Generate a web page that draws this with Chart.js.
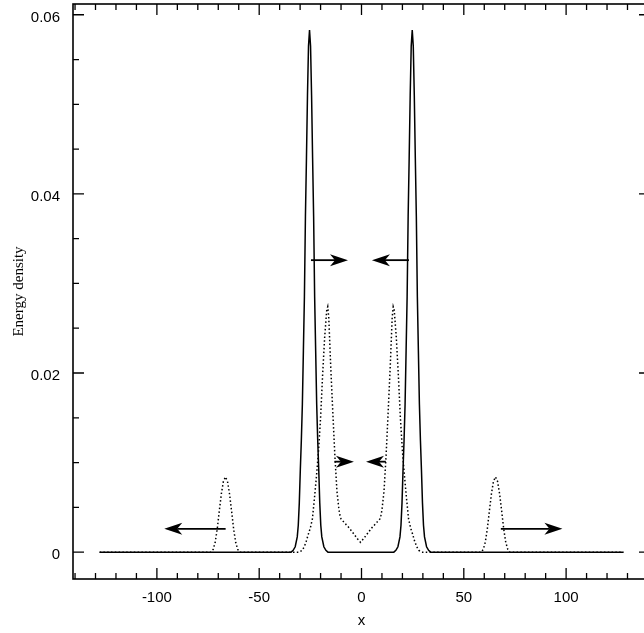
<!DOCTYPE html>
<html>
<head>
<meta charset="utf-8">
<script src="https://cdn.jsdelivr.net/npm/chart.js@4.4.1/dist/chart.umd.min.js"></script>
<style>
  html, body { margin: 0; padding: 0; background: #fff; overflow: hidden; }
  #wrap { width: 652px; height: 633px; }
</style>
</head>
<body>
<div id="wrap"><canvas id="chart"></canvas></div>
<script>
// ===== DATA =====
const solidX = [-128,
  -34.4, -33.4, -32.4, -31.4, -30.9, -30.4, -29.9, -29.4, -28.9, -28.4, -27.9, -27.4, -26.9, -26.4, -25.9, -25.4,
  -24.9, -24.4, -23.9, -23.4, -22.9, -22.4, -21.9, -21.4, -20.9, -20.4, -19.9, -19.4, -18.4, -17.4, -16.4,
  15.8, 16.8, 17.8, 18.8, 19.3, 19.8, 20.3, 20.8, 21.3, 21.8, 22.3, 22.8, 23.3, 23.8, 24.3, 24.8,
  25.3, 25.8, 26.3, 26.8, 27.3, 27.8, 28.3, 28.8, 29.3, 29.8, 30.3, 30.8, 31.8, 32.8, 33.8,
  128];
const solidY = [0,
  0, 0.0002, 0.0006, 0.0017, 0.003, 0.0055, 0.0092, 0.0125, 0.0165, 0.0225, 0.0285, 0.0375, 0.044, 0.051, 0.0565, 0.0583,
  0.0565, 0.051, 0.044, 0.0375, 0.0285, 0.0225, 0.0165, 0.0125, 0.0092, 0.0055, 0.003, 0.0017, 0.0006, 0.0002, 0,
  0, 0.0002, 0.0006, 0.0017, 0.003, 0.0055, 0.0092, 0.0125, 0.0165, 0.0225, 0.0285, 0.0375, 0.044, 0.051, 0.0565, 0.0583,
  0.0565, 0.051, 0.044, 0.0375, 0.0285, 0.0225, 0.0165, 0.0125, 0.0092, 0.0055, 0.003, 0.0017, 0.0006, 0.0002, 0,
  0];

const dottedX = [-128,
  -73.5, -72.5, -71.5, -70.5, -69.5, -68.5, -67.5, -66.5, -65.5, -64.5, -63.5, -62.5, -61.5, -60.5, -59.5,
  -30.5, -29, -28, -27, -26, -25, -24, -23, -22, -21, -20, -19, -18, -17, -16.5, -16, -15, -14, -13, -12, -11,
  -10.5, -10, -8, -6, -4, -2, -0.5, 1, 3, 5, 7, 9, 9.5,
  10, 11, 12, 13, 14, 15, 15.5, 16, 17, 18, 19, 20, 21, 22, 23, 24, 25, 26, 27, 28, 29.5,
  58.5, 59.5, 60.5, 61.5, 62.5, 63.5, 64.5, 65.5, 66.5, 67.5, 68.5, 69.5, 70.5, 71.5, 72.5,
  128];
const dottedY = [0,
  0, 0.0003, 0.0011, 0.0026, 0.0046, 0.0065, 0.0079, 0.0084, 0.0079, 0.0065, 0.0046, 0.0026, 0.0011, 0.0003, 0,
  0, 0.0002, 0.0006, 0.0012, 0.002, 0.0027, 0.0037, 0.006, 0.0085, 0.0113, 0.015, 0.0198, 0.024, 0.027, 0.0274, 0.0262, 0.0205, 0.0155, 0.0107, 0.0068, 0.0047,
  0.0041, 0.0037, 0.0032, 0.0027, 0.0021, 0.0015, 0.0011, 0.0015, 0.0021, 0.0027, 0.0032, 0.0037, 0.0041,
  0.0047, 0.0068, 0.0107, 0.0155, 0.0205, 0.0262, 0.0274, 0.027, 0.024, 0.0198, 0.015, 0.0113, 0.0085, 0.006, 0.0037, 0.0027, 0.002, 0.0012, 0.0006, 0.0002, 0,
  0, 0.0003, 0.0011, 0.0026, 0.0046, 0.0065, 0.0079, 0.0084, 0.0079, 0.0065, 0.0046, 0.0026, 0.0011, 0.0003, 0,
  0];

const xTicks = [-100, -50, 0, 50, 100];
const xTickLabels = ["-100", "-50", "0", "50", "100"];
const yTicks = [0, 0.02, 0.04, 0.06];
const yTickLabels = ["0", "0.02", "0.04", "0.06"];

// arrows: [fromX, fromY, toX, toY]
const arrows = [
  [-24.7, 0.0326, -6.6, 0.0326],
  [23.2, 0.0326, 5.1, 0.0326],
  [-13.2, 0.0101, -3.7, 0.0101],
  [11.9, 0.0101, 2.2, 0.0101],
  [-66.4, 0.0026, -96.4, 0.0026],
  [68.1, 0.0026, 98.2, 0.0026]
];

const pts = (xs, ys) => xs.map((x, i) => ({ x, y: ys[i] }));

// scale paddings from labels would push the box inward, drop them
const noPad = s => { s.paddingLeft = s.paddingRight = s.paddingTop = s.paddingBottom = 0; };

// ===== TICKS, BOX, ARROWS =====
const frame = {
  id: "frame",
  afterDatasetsDraw(chart) {
    const { ctx, chartArea: a, scales: { x, y } } = chart;
    ctx.save();
    ctx.strokeStyle = "#000";
    ctx.lineWidth = 1.6;
    ctx.strokeRect(a.left, a.top, a.right - a.left, a.bottom - a.top);

    ctx.lineWidth = 1.3;
    ctx.beginPath();
    for (let v = -140; v <= 140; v += 10) {
      const px = x.getPixelForValue(v);
      const len = v % 50 === 0 ? 11 : 6;
      ctx.moveTo(px, a.bottom); ctx.lineTo(px, a.bottom - len);
      ctx.moveTo(px, a.top); ctx.lineTo(px, a.top + len);
    }
    for (let k = 0; k <= 12; k++) {
      const v = k * 0.005;
      const py = y.getPixelForValue(v);
      const len = k % 4 === 0 ? 11 : 6;
      ctx.moveTo(a.left, py); ctx.lineTo(a.left + len, py);
      ctx.moveTo(a.right, py); ctx.lineTo(a.right - len, py);
    }
    ctx.stroke();

    ctx.fillStyle = "#000";
    ctx.lineWidth = 1.8;
    arrows.forEach(([x0, y0, x1, y1]) => {
      const p0 = x.getPixelForValue(x0), q0 = y.getPixelForValue(y0);
      const p1 = x.getPixelForValue(x1), q1 = y.getPixelForValue(y1);
      const dir = Math.sign(p1 - p0);
      const head = 18, half = 6, notch = 13;
      ctx.beginPath();
      ctx.moveTo(p0, q0);
      ctx.lineTo(p1 - dir * notch, q1);
      ctx.stroke();
      ctx.beginPath();
      ctx.moveTo(p1, q1);
      ctx.lineTo(p1 - dir * head, q1 - half);
      ctx.lineTo(p1 - dir * notch, q1);
      ctx.lineTo(p1 - dir * head, q1 + half);
      ctx.closePath();
      ctx.fill();
    });
    ctx.restore();
  }
};

const tickFont = { family: "'Liberation Sans', Arial, sans-serif", size: 15 };

new Chart(document.getElementById("chart"), {
  type: "line",
  data: {
    datasets: [
      {
        data: pts(solidX, solidY),
        borderColor: "#000",
        borderWidth: 1.5,
        pointRadius: 0,
        tension: 0
      },
      {
        data: pts(dottedX, dottedY),
        borderColor: "#000",
        borderWidth: 1.5,
        borderDash: [1.5, 2.3],
        pointRadius: 0,
        tension: 0
      }
    ]
  },
  options: {
    responsive: true,
    maintainAspectRatio: false,
    animation: false,
    layout: { padding: { top: 4, right: 2, left: 0, bottom: 0 } },
    plugins: { legend: { display: false }, tooltip: { enabled: false } },
    scales: {
      x: {
        type: "linear",
        min: -141,
        max: 141,
        grid: { display: false, drawTicks: false },
        border: { display: false },
        afterBuildTicks: s => { s.ticks = xTicks.map(v => ({ value: v })); },
        afterFit: s => { s.height = 54; noPad(s); },
        ticks: {
          color: "#000",
          font: tickFont,
          padding: 10,
          maxRotation: 0,
          callback: (v, i) => xTickLabels[i]
        },
        title: {
          display: true,
          text: "x",
          color: "#000",
          font: tickFont,
          padding: { top: 0, bottom: 3 }
        }
      },
      y: {
        type: "linear",
        min: -0.003,
        max: 0.0612,
        grid: { display: false, drawTicks: false },
        border: { display: false },
        afterBuildTicks: s => { s.ticks = yTicks.map(v => ({ value: v })); },
        afterFit: s => { s.width = 73; noPad(s); },
        ticks: {
          color: "#000",
          font: tickFont,
          padding: 13,
          labelOffset: 3,
          callback: (v, i) => yTickLabels[i]
        },
        title: {
          display: true,
          text: "Energy density",
          color: "#000",
          font: { family: "'Liberation Serif', 'Times New Roman', serif", size: 15 },
          padding: { top: 10, bottom: 0 }
        }
      }
    }
  },
  plugins: [frame]
});
</script>
</body>
</html>
